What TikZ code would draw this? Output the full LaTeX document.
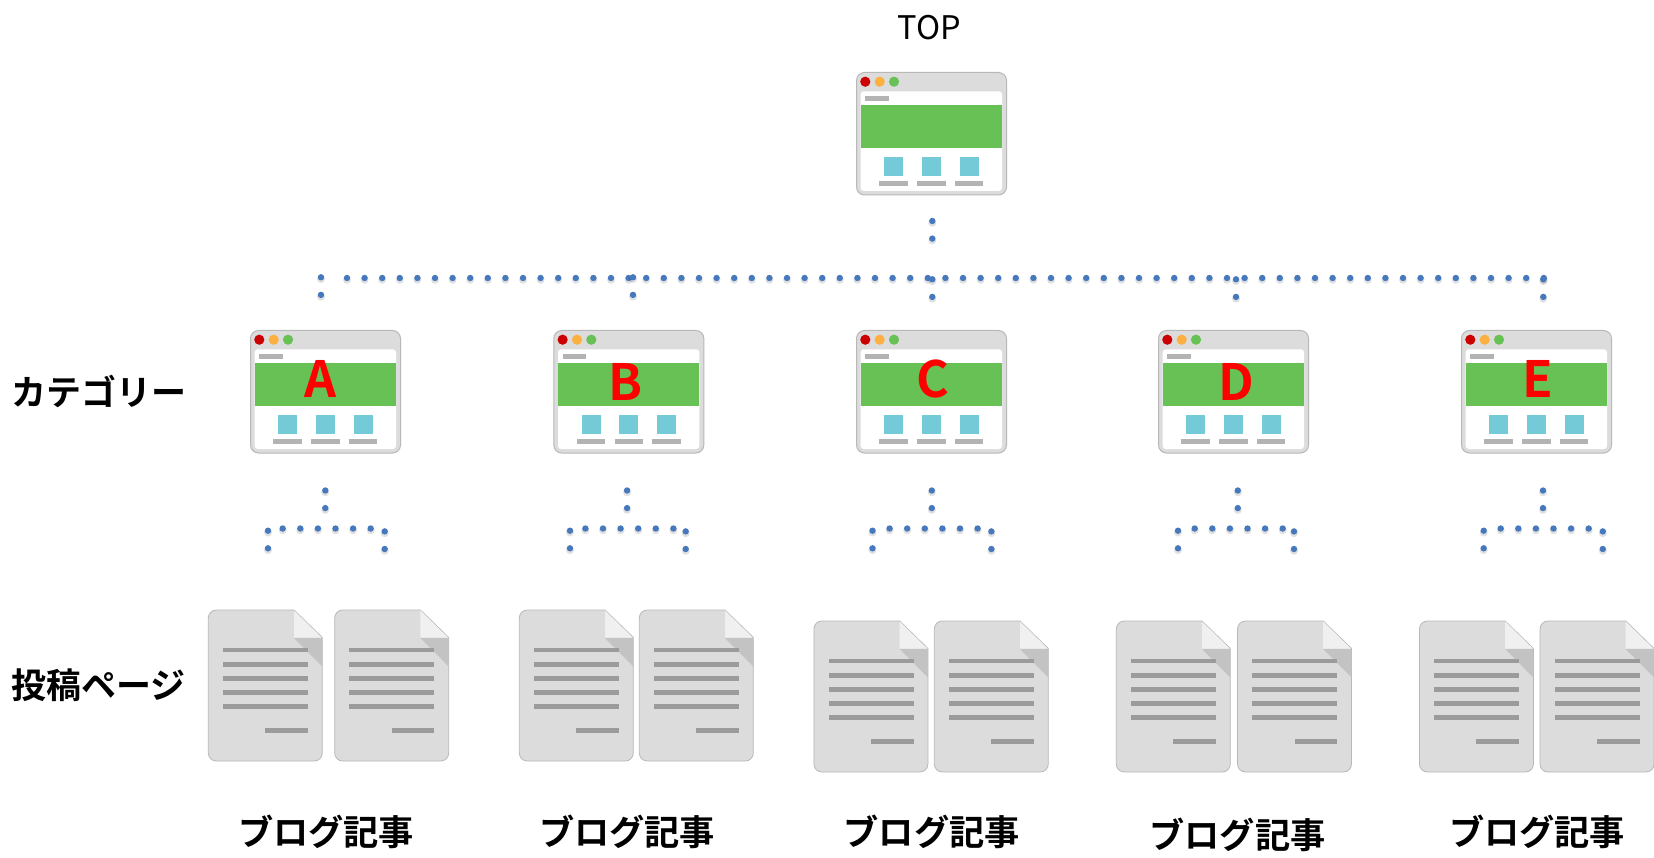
\documentclass[tikz,border=0pt]{standalone}
\usepackage{fontspec}
\setmainfont{Noto Sans CJK JP}[BoldFont={Noto Sans CJK JP Bold}]
\definecolor{frameC}{HTML}{DCDCDC}
\definecolor{frameE}{HTML}{B8B8B8}
\definecolor{greenC}{HTML}{68C155}
\definecolor{cyanC}{HTML}{75CAD8}
\definecolor{barC}{HTML}{B3B3B3}
\definecolor{redC}{HTML}{CC0000}
\definecolor{amberC}{HTML}{FBB040}
\definecolor{lineC}{HTML}{9B9B9B}
\definecolor{foldL}{HTML}{F0F0F0}
\definecolor{foldD}{HTML}{C3C3C3}
\definecolor{dotC}{HTML}{4678BE}
\tikzset{
  winframe/.style={draw=frameE,fill=frameC,line width=1pt,rounded corners=8pt,minimum width=150pt,minimum height=122.5pt,inner sep=0pt,anchor=north west},
  docshape/.style={draw=frameE,fill=frameC,line width=.8pt},
  dotline/.style={color=dotC,line width=6.4pt,line cap=round,dash pattern=on 0pt off 17.6pt,
    preaction={draw=black,opacity=.12,line width=8pt,line cap=round,dash pattern=on 0pt off 17.6pt,transform canvas={yshift=-1.8pt}}},
  sidelabel/.style={font=\bfseries\fontsize{35}{35}\selectfont,inner sep=0pt,anchor=center},
  bloglabel/.style={font=\bfseries\fontsize{35.2}{35.2}\selectfont,inner sep=0pt,anchor=center},
  letterlabel/.style={font=\bfseries\fontsize{50}{50}\selectfont,text=red,inner sep=0pt,anchor=base},
  toplabel/.style={font=\fontsize{32.5}{32.5}\selectfont,inner sep=0pt,anchor=base}
}
\newcommand{\browserwin}[3]{%
  \node[winframe] (#1) at (#2,#3) {};
  \begin{scope}[shift={(#2,#3)}]
    \fill[white,rounded corners=3pt] (4.7,19.3) rectangle (146,119);
    \fill[redC] (9.3,9.7) circle[radius=5.1];
    \fill[amberC] (23.7,9.7) circle[radius=5.1];
    \fill[greenC] (38,9.7) circle[radius=5.1];
    \fill[barC] (9.3,24) rectangle (33,28.7);
    \fill[greenC] (4.7,33.3) rectangle (146,76);
    \foreach \sq/\br in {28.3/23.3,66/61.3,103.7/99}{
      \fill[cyanC] (\sq,85.2) rectangle ++(19,19);
      \fill[barC] (\br,109.3) rectangle ++(28.4,4.7);
    }
  \end{scope}}
\newcommand{\docpage}[2]{%
  \begin{scope}[shift={(#1,#2)}]
    \draw[docshape] (8,0) -- (85.7,0) -- (114,27.5) -- (114,143)
      arc[start angle=0,end angle=90,radius=8] -- (8,151)
      arc[start angle=90,end angle=180,radius=8] -- (0,8)
      arc[start angle=180,end angle=270,radius=8] -- cycle;
    \fill[foldD] (85.7,28) -- (114,28) -- (114,56.5) -- cycle;
    \fill[foldL] (85.7,.4) -- (113.4,27.5) -- (85.7,27.5) -- cycle;
    \foreach \ly in {40,54.2,68.4,82.6,96.8}{
      \fill[lineC] (14.7,\ly-2.4) rectangle (99.7,\ly+2.4);
    }
    \fill[lineC] (57,118) rectangle (99.7,122.7);
  \end{scope}}
% stem x, row first, row last, left drop, right drop, tag
\newcommand{\childdots}[6]{%
  \coordinate (s#6a) at (#1,490.5);
  \coordinate (s#6b) at (#1,508.2);
  \coordinate (r#6a) at (#2,528.5);
  \coordinate (r#6b) at (#3,528.5);
  \coordinate (l#6a) at (#4,530.7);
  \coordinate (l#6b) at (#4,548.4);
  \coordinate (d#6a) at (#5,531.4);
  \coordinate (d#6b) at (#5,549.1);
  \draw[dotline] (s#6a) -- (s#6b);
  \draw[dotline] (r#6a) -- (r#6b);
  \draw[dotline] (l#6a) -- (l#6b);
  \draw[dotline] (d#6a) -- (d#6b);}
\begin{document}
\begin{tikzpicture}[x=1pt,y=-1pt]
\useasboundingbox[fill=white] (0,0) rectangle (1654,858);
\clip (0,0) rectangle (1654,858);

\node[toplabel] (toptxt) at (929.5,39.5) {TOP};
\browserwin{wtop}{856}{72}
\browserwin{wA}{250}{330}
\browserwin{wB}{553.3}{330}
\browserwin{wC}{856}{330}
\browserwin{wD}{1158}{330}
\browserwin{wE}{1461}{330}

\node[letterlabel] (la) at (320.5,397.3) {A};
\node[letterlabel] (lb) at (626,400) {B};
\node[letterlabel] (lc) at (933,397.5) {C};
\node[letterlabel] (ld) at (1236,400) {D};
\node[letterlabel] (le) at (1538,397.3) {E};

\node[sidelabel] (cat) at (99,391) {カテゴリー};
\node[sidelabel] (post) at (98.5,685) {投稿ページ};

\docpage{208.3}{610}\docpage{334.7}{610}
\docpage{519.3}{610}\docpage{639.3}{610}
\docpage{813.9}{621}\docpage{934.3}{621}
\docpage{1116.3}{621}\docpage{1237.5}{621}
\docpage{1419.4}{621}\docpage{1540}{621}

\node[bloglabel] (ba) at (326,831.5) {ブログ記事};
\node[bloglabel] (bb) at (627,831.5) {ブログ記事};
\node[bloglabel] (bc) at (931.6,831.5) {ブログ記事};
\node[bloglabel] (bd) at (1237.5,835) {ブログ記事};
\node[bloglabel] (be) at (1537,831.5) {ブログ記事};

% trunk and row
\coordinate (t1) at (932.3,221);
\coordinate (t2) at (932.3,238.7);
\coordinate (rowa) at (347,278);
\coordinate (rowb) at (1544,278);
\draw[dotline] (t1) -- (t2);
\draw[dotline] (rowa) -- (rowb);
\foreach \nm/\px/\py in {p/321/277.3,q/633/277.3,u/932.3/279.3,v/1236/279.3,w/1543.3/279.3}{
  \coordinate (\nm1) at (\px,\py);
  \coordinate (\nm2) at (\px,\py+17.7);
  \draw[dotline] (\nm1) -- (\nm2);
}
\childdots{325.3}{282.7}{371}{268}{384.7}{A}
\childdots{627.1}{585.4}{673.6}{570}{685.7}{B}
\childdots{931.8}{889.6}{977.6}{872.5}{991.4}{C}
\childdots{1237.8}{1194.7}{1283}{1178}{1294}{D}
\childdots{1543}{1500.7}{1588.8}{1483.7}{1602.8}{E}
\end{tikzpicture}
\end{document}
